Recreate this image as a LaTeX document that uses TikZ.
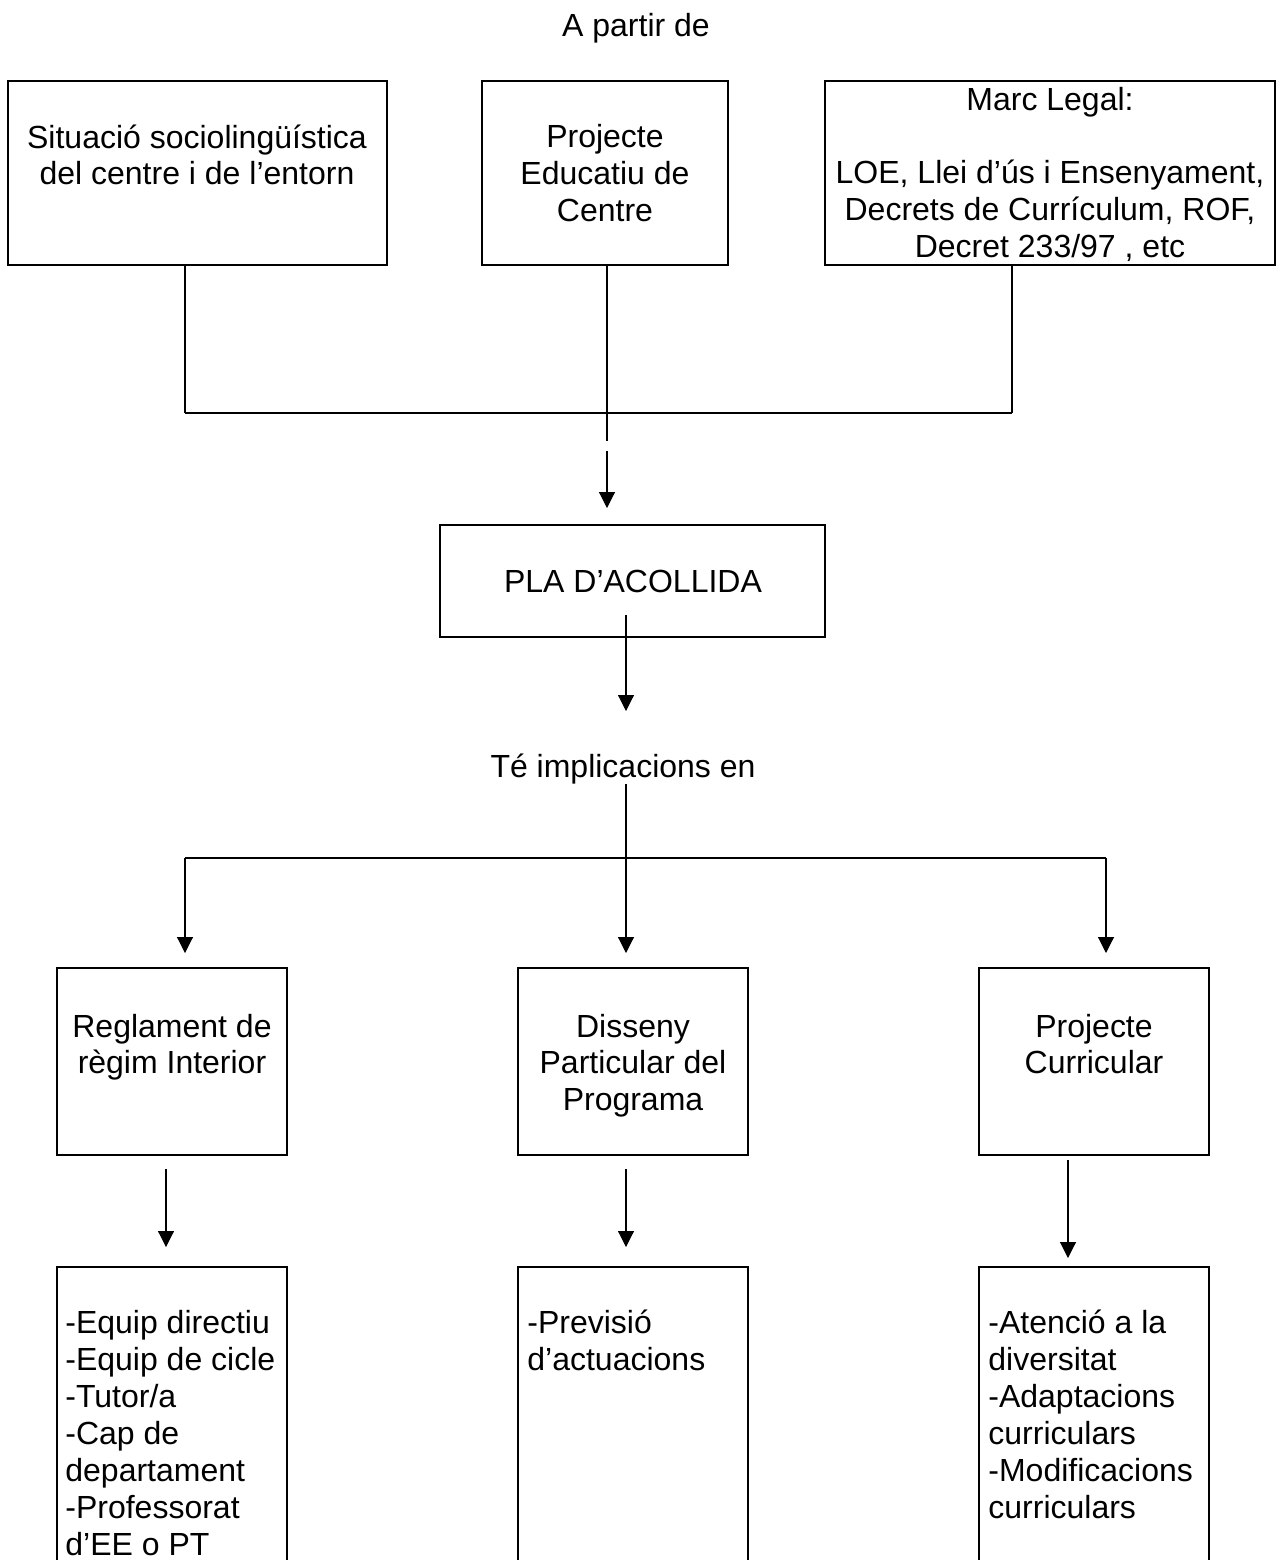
\documentclass[tikz,border=0pt]{standalone}
\usepackage{fontspec}
\setmainfont{Liberation Sans}
\usetikzlibrary{arrows.meta,fit}
\tikzset{
  box/.style={draw, line width=1pt, inner sep=0pt},
  txt/.style={inner sep=0pt, anchor=base, font=\fontsize{16pt}{18.5pt}\selectfont},
  ltxt/.style={txt, anchor=base west},
  conn/.style={line width=0.55pt},
  bar/.style={line width=0.8pt},
  arr/.style={line width=0.55pt, -{Triangle[length=8pt,width=8pt]}}
}
\begin{document}
\begin{tikzpicture}[x=0.5pt,y=-0.5pt]
\useasboundingbox (0,0) rectangle (1277,1560);
\clip (0,0) rectangle (1277,1560);

% title
\node[txt] (title) at (636,36) {A partir de};

% top boxes
\node[box, fit={(8,81) (387,265)}] (b1) {};
\node[box, fit={(482,81) (728,265)}] (b2) {};
\node[box, fit={(825,81) (1275,265)}] (b3) {};

\node[txt] (b1a) at (197,148) {Situació sociolingüística};
\node[txt] (b1b) at (197,184) {del centre i de l’entorn};

\node[txt] (b2a) at (605,147) {Projecte};
\node[txt] (b2b) at (605,184) {Educatiu de};
\node[txt] (b2c) at (605,221) {Centre};

\node[txt] (b3a) at (1050,110) {Marc Legal:};
\node[txt] (b3b) at (1050,183) {LOE, Llei d’ús i Ensenyament,};
\node[txt] (b3c) at (1050,220) {Decrets de Currículum, ROF,};
\node[txt] (b3d) at (1050,257) {Decret 233/97 , etc};

% PLA box
\node[box, fit={(440,525) (825,637)}] (pla) {};
\node[txt] (plat) at (633,592) {PLA D’ACOLLIDA};

\node[txt] (te) at (623,777) {Té implicacions en};

% middle row boxes
\node[box, fit={(57,968) (287,1155)}] (r1) {};
\node[box, fit={(518,968) (748,1155)}] (r2) {};
\node[box, fit={(979,968) (1209,1155)}] (r3) {};

\node[txt] (r1a) at (172,1037) {Reglament de};
\node[txt] (r1b) at (172,1073) {règim Interior};

\node[txt] (r2a) at (633,1037) {Disseny};
\node[txt] (r2b) at (633,1073) {Particular del};
\node[txt] (r2c) at (633,1110) {Programa};

\node[txt] (r3a) at (1094,1037) {Projecte};
\node[txt] (r3b) at (1094,1073) {Curricular};

% bottom boxes
\node[box, fit={(57,1267) (287,1600)}] (s1) {};
\node[box, fit={(518,1267) (748,1600)}] (s2) {};
\node[box, fit={(979,1267) (1209,1600)}] (s3) {};

\node[ltxt] (s1a) at (65,1333) {-Equip directiu};
\node[ltxt] (s1b) at (65,1370) {-Equip de cicle};
\node[ltxt] (s1c) at (65,1407) {-Tutor/a};
\node[ltxt] (s1d) at (65,1444) {-Cap de};
\node[ltxt] (s1e) at (65,1481) {departament};
\node[ltxt] (s1f) at (65,1518) {-Professorat};
\node[ltxt] (s1g) at (65,1555) {d’EE o PT};

\node[ltxt] (s2a) at (527,1333) {-Previsió};
\node[ltxt] (s2b) at (527,1370) {d’actuacions};

\node[ltxt] (s3a) at (988,1333) {-Atenció a la};
\node[ltxt] (s3b) at (988,1370) {diversitat};
\node[ltxt] (s3c) at (988,1407) {-Adaptacions};
\node[ltxt] (s3d) at (988,1444) {curriculars};
\node[ltxt] (s3e) at (988,1481) {-Modificacions};
\node[ltxt] (s3f) at (988,1518) {curriculars};

% connector points
\coordinate (jl) at (185,413);
\coordinate (jr) at (1012,413);
\coordinate (jc) at (607,441);
\coordinate (ac0) at (607,451);
\coordinate (ac1) at (607,508);
\coordinate (pl0) at (626,615);
\coordinate (pl1) at (626,711);
\coordinate (te0) at (626,784);
\coordinate (te1) at (626,953);
\coordinate (hl) at (185,858);
\coordinate (hr) at (1106,858);
\coordinate (hl1) at (185,953);
\coordinate (hr1) at (1106,953);
\coordinate (d10) at (166,1169);
\coordinate (d11) at (166,1247);
\coordinate (d20) at (626,1169);
\coordinate (d21) at (626,1247);
\coordinate (d30) at (1068,1160);
\coordinate (d31) at (1068,1258);

% top connectors
\draw[conn] (b1.south -| jl) -- (jl);
\draw[conn] (b3.south -| jr) -- (jr);
\draw[conn] (b2.south -| jc) -- (jc);
\draw[bar] (jl) -- (jr);
\draw[arr] (ac0) -- (ac1);

% PLA to text
\draw[arr] (pl0) -- (pl1);

% distribution
\draw[arr] (te0) -- (te1);
\draw[bar] (hl) -- (hr);
\draw[arr] (hl) -- (hl1);
\draw[arr] (hr) -- (hr1);

% lower arrows
\draw[arr] (d10) -- (d11);
\draw[arr] (d20) -- (d21);
\draw[arr] (d30) -- (d31);
\end{tikzpicture}
\end{document}
